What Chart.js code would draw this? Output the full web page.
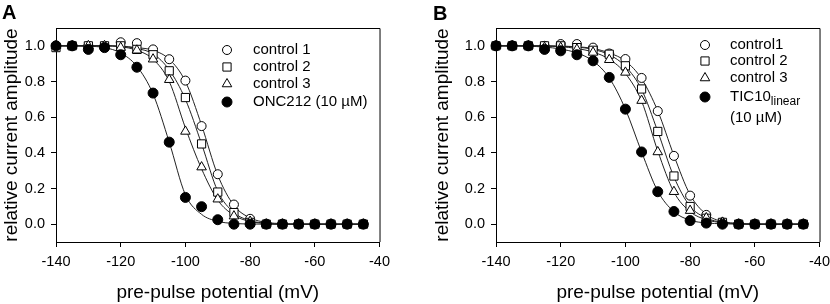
<!DOCTYPE html>
<html>
<head>
<meta charset="utf-8">
<script src="https://cdn.jsdelivr.net/npm/chart.js@4.4.0/dist/chart.umd.min.js"></script>
<style>
  html, body { margin: 0; padding: 0; background: #fff; overflow: hidden; width: 830px; height: 304px; }
  .panel { position: absolute; top: 0; height: 304px; }
  .letter { position: absolute; z-index: 2; font: bold 20px "Liberation Sans", Arial, sans-serif; line-height: 20px; }
</style>
</head>
<body>
<div class="panel" style="left:0;width:396px"><canvas id="chartA" width="396" height="304"></canvas></div>
<div class="panel" style="left:430px;width:406px"><canvas id="chartB" width="406" height="304"></canvas></div>
<div class="letter" style="left:2px;top:2px">A</div>
<div class="letter" style="left:433px;top:3px">B</div>
<script>
// pre-pulse potentials (mV)
const voltage = [-140, -135, -130, -125, -120, -115, -110, -105, -100, -95, -90, -85, -80, -75, -70, -65, -60, -55, -50, -45];
const xTicks = [-140, -120, -100, -80, -60, -40];
const yTicks = [0, 0.2, 0.4, 0.6, 0.8, 1.0];

// panel A: measured points and fitted curves
const aControl1 = [1.00, 1.00, 1.00, 1.00, 1.02, 1.015, 0.98, 0.925, 0.805, 0.55, 0.28, 0.11, 0.03, 0.00, 0.00, 0.00, 0.00, 0.00, 0.00, 0.00];
const aControl2 = [0.99, 1.00, 1.00, 1.00, 1.00, 0.98, 0.95, 0.86, 0.71, 0.45, 0.18, 0.065, 0.01, 0.00, 0.00, 0.00, 0.00, 0.00, 0.00, 0.00];
const aControl3 = [1.00, 1.00, 1.00, 1.00, 0.99, 0.975, 0.925, 0.81, 0.52, 0.32, 0.14, 0.045, 0.015, 0.00, 0.00, 0.00, 0.00, 0.00, 0.00, 0.00];
const aOnc212 = [1.00, 1.00, 0.98, 0.99, 0.95, 0.88, 0.735, 0.46, 0.15, 0.098, 0.025, 0.00, 0.00, 0.00, 0.00, 0.00, 0.00, 0.00, 0.00, 0.00];
const aControl1Fit = [1.00, 1.00, 1.00, 1.00, 0.998, 0.99, 0.975, 0.925, 0.80, 0.555, 0.275, 0.105, 0.035, 0.01, 0.003, 0.00, 0.00, 0.00, 0.00, 0.00];
const aControl2Fit = [1.00, 1.00, 1.00, 1.00, 0.997, 0.985, 0.955, 0.865, 0.70, 0.45, 0.185, 0.065, 0.02, 0.005, 0.00, 0.00, 0.00, 0.00, 0.00, 0.00];
const aControl3Fit = [1.00, 1.00, 1.00, 1.00, 0.995, 0.975, 0.925, 0.80, 0.54, 0.31, 0.135, 0.05, 0.015, 0.004, 0.00, 0.00, 0.00, 0.00, 0.00, 0.00];
const aOnc212Fit = [1.00, 1.00, 0.998, 0.99, 0.96, 0.885, 0.73, 0.46, 0.165, 0.055, 0.016, 0.004, 0.001, 0.00, 0.00, 0.00, 0.00, 0.00, 0.00, 0.00];

// panel B: measured points and fitted curves
const bControl1 = [1.00, 1.00, 1.00, 1.00, 1.01, 1.01, 0.99, 0.957, 0.926, 0.82, 0.634, 0.383, 0.16, 0.052, 0.01, 0.00, 0.00, 0.00, 0.00, 0.00];
const bControl2 = [1.00, 1.00, 1.00, 1.00, 1.00, 0.99, 0.975, 0.953, 0.888, 0.758, 0.52, 0.27, 0.099, 0.033, 0.01, 0.00, 0.00, 0.00, 0.00, 0.00];
const bControl3 = [1.00, 1.00, 1.00, 0.99, 0.99, 0.98, 0.963, 0.922, 0.851, 0.693, 0.405, 0.182, 0.076, 0.035, 0.01, 0.00, 0.00, 0.00, 0.00, 0.00];
const bTic10 = [1.00, 1.00, 1.00, 0.98, 0.972, 0.95, 0.916, 0.823, 0.645, 0.405, 0.182, 0.071, 0.02, 0.006, 0.00, 0.00, 0.00, 0.00, 0.00, 0.00];
const bControl1Fit = [1.00, 1.00, 1.00, 1.00, 0.998, 0.995, 0.985, 0.96, 0.915, 0.815, 0.635, 0.385, 0.165, 0.055, 0.015, 0.004, 0.00, 0.00, 0.00, 0.00];
const bControl2Fit = [1.00, 1.00, 1.00, 1.00, 0.998, 0.993, 0.98, 0.95, 0.885, 0.755, 0.52, 0.265, 0.10, 0.035, 0.01, 0.003, 0.00, 0.00, 0.00, 0.00];
const bControl3Fit = [1.00, 1.00, 1.00, 0.998, 0.995, 0.985, 0.965, 0.925, 0.845, 0.69, 0.41, 0.18, 0.07, 0.025, 0.008, 0.002, 0.00, 0.00, 0.00, 0.00];
const bTic10Fit = [1.00, 1.00, 0.998, 0.993, 0.982, 0.96, 0.915, 0.82, 0.645, 0.405, 0.185, 0.07, 0.022, 0.007, 0.002, 0.00, 0.00, 0.00, 0.00, 0.00];

Chart.defaults.font.family = '"Liberation Sans", Arial, sans-serif';
Chart.defaults.color = '#000';

const FONT = '"Liberation Sans", Arial, sans-serif';

function pts(values) {
    return values.map((y, i) => ({ x: voltage[i], y: y }));
}

function markerSet(label, values, style, radius, fill, order) {
    return {
        label: label,
        data: pts(values),
        showLine: false,
        pointStyle: style,
        pointRadius: radius,
        pointHoverRadius: radius,
        pointBackgroundColor: fill,
        pointBorderColor: '#000',
        pointBorderWidth: 1,
        clip: false,
        order: order,
    };
}

function fitSet(values) {
    return {
        label: 'fit',
        data: pts(values),
        showLine: true,
        borderColor: '#222',
        borderWidth: 1,
        pointRadius: 0,
        cubicInterpolationMode: 'monotone',
        order: 10,
    };
}

// draw the manual symbol shapes the same way chart.js does
function drawSymbol(ctx, ds, x, y) {
    const r = ds.pointRadius;
    ctx.beginPath();
    if (ds.pointStyle === 'circle') {
        ctx.arc(x, y, r, 0, Math.PI * 2);
    } else if (ds.pointStyle === 'rect') {
        const s = r * Math.SQRT1_2;
        ctx.rect(x - s, y - s, 2 * s, 2 * s);
    } else if (ds.pointStyle === 'triangle') {
        ctx.moveTo(x, y - r);
        ctx.lineTo(x + r * Math.sin(2 * Math.PI / 3), y - r * Math.cos(2 * Math.PI / 3));
        ctx.lineTo(x + r * Math.sin(4 * Math.PI / 3), y - r * Math.cos(4 * Math.PI / 3));
        ctx.closePath();
    }
    ctx.fillStyle = ds.pointBackgroundColor;
    ctx.fill();
    ctx.lineWidth = 1;
    ctx.strokeStyle = '#000';
    ctx.stroke();
}

const frameAndLegend = {
    id: 'frameAndLegend',
    beforeDatasetsDraw(chart) {
        const { ctx, chartArea: a } = chart;
        ctx.save();
        ctx.strokeStyle = '#000';
        ctx.lineWidth = 1;
        ctx.beginPath();
        ctx.moveTo(a.left, a.top + 0.5);
        ctx.lineTo(a.right + 0.5, a.top + 0.5);
        ctx.lineTo(a.right + 0.5, a.bottom);
        ctx.stroke();
        ctx.restore();
    },
    afterDatasetsDraw(chart, args, opts) {
        const ctx = chart.ctx;
        ctx.save();
        opts.items.forEach((item, i) => {
            const ds = chart.data.datasets[item.dataset];
            const y = opts.rows[i];
            drawSymbol(ctx, ds, opts.symbolX, y);
            ctx.fillStyle = '#000';
            ctx.font = '15px ' + FONT;
            ctx.textBaseline = 'middle';
            ctx.textAlign = 'left';
            ctx.fillText(item.text, opts.textX, y);
            if (item.sub) {
                const w = ctx.measureText(item.text).width;
                ctx.font = '12px ' + FONT;
                ctx.fillText(item.sub, opts.textX + w, y + 5);
            }
            if (item.next) {
                ctx.font = '15px ' + FONT;
                ctx.fillText(item.next, opts.textX, y + 21);
            }
        });
        ctx.restore();
    },
};

function makePanel(canvasId, series, axisWidth, titlePad, legend) {
    const datasets = [];
    // filled drug markers first so they sit on top
    series.forEach((s) => datasets.push(markerSet(s.label, s.values, s.style, s.radius, s.fill, s.order)));
    series.forEach((s) => datasets.push(fitSet(s.fit)));

    return new Chart(document.getElementById(canvasId), {
        type: 'scatter',
        data: { datasets: datasets },
        options: {
            responsive: false,
            animation: false,
            devicePixelRatio: 1,
            layout: { padding: { top: 28, left: 0, right: 16, bottom: 0 } },
            plugins: {
                legend: { display: false },
                tooltip: { enabled: false },
                frameAndLegend: legend,
            },
            scales: {
                x: {
                    type: 'linear',
                    min: -140,
                    max: -40,
                    afterBuildTicks: (scale) => { scale.ticks = xTicks.map((v) => ({ value: v })); },
                    afterFit: (scale) => { scale.height = 62; },
                    ticks: { font: { size: 14.5 }, padding: 6, maxRotation: 0, color: '#000' },
                    grid: { drawOnChartArea: false, drawTicks: true, tickLength: 5, color: '#000' },
                    border: { display: true, color: '#000', width: 1 },
                    title: { display: true, text: 'pre-pulse potential (mV)', font: { size: 19 }, padding: { top: 0, bottom: 0 }, color: '#000' },
                },
                y: {
                    type: 'linear',
                    min: -0.1,
                    max: 1.1,
                    afterBuildTicks: (scale) => { scale.ticks = yTicks.map((v) => ({ value: v })); },
                    afterFit: (scale) => { scale.width = axisWidth; },
                    ticks: { font: { size: 14.5 }, padding: 6, color: '#000', callback: (v) => Number(v).toFixed(1) },
                    grid: { drawOnChartArea: false, drawTicks: true, tickLength: 5, color: '#000' },
                    border: { display: true, color: '#000', width: 1 },
                    title: { display: true, text: 'relative current amplitude', font: { size: 19 }, padding: { top: titlePad, bottom: 0 }, color: '#000' },
                },
            },
        },
        plugins: [frameAndLegend],
    });
}

makePanel('chartA', [
    { label: 'ONC212 (10 µM)', values: aOnc212, fit: aOnc212Fit, style: 'circle', radius: 5, fill: '#000', order: 0 },
    { label: 'control 3', values: aControl3, fit: aControl3Fit, style: 'triangle', radius: 5.5, fill: '#fff', order: 1 },
    { label: 'control 2', values: aControl2, fit: aControl2Fit, style: 'rect', radius: 5.8, fill: '#fff', order: 2 },
    { label: 'control 1', values: aControl1, fit: aControl1Fit, style: 'circle', radius: 4.5, fill: '#fff', order: 3 },
], 56, 0, {
    symbolX: 227,
    textX: 253,
    rows: [50, 67, 84, 102],
    items: [
        { dataset: 3, text: 'control 1' },
        { dataset: 2, text: 'control 2' },
        { dataset: 1, text: 'control 3' },
        { dataset: 0, text: 'ONC212 (10 µM)' },
    ],
});

makePanel('chartB', [
    { label: 'TIC10 linear (10 µM)', values: bTic10, fit: bTic10Fit, style: 'circle', radius: 5, fill: '#000', order: 0 },
    { label: 'control 3', values: bControl3, fit: bControl3Fit, style: 'triangle', radius: 5.5, fill: '#fff', order: 1 },
    { label: 'control 2', values: bControl2, fit: bControl2Fit, style: 'rect', radius: 5.8, fill: '#fff', order: 2 },
    { label: 'control1', values: bControl1, fit: bControl1Fit, style: 'circle', radius: 4.5, fill: '#fff', order: 3 },
], 66, 1, {
    symbolX: 275,
    textX: 300,
    rows: [45, 61, 78, 97],
    items: [
        { dataset: 3, text: 'control1' },
        { dataset: 2, text: 'control 2' },
        { dataset: 1, text: 'control 3' },
        { dataset: 0, text: 'TIC10', sub: 'linear', next: '(10 µM)' },
    ],
});
</script>
</body>
</html>
